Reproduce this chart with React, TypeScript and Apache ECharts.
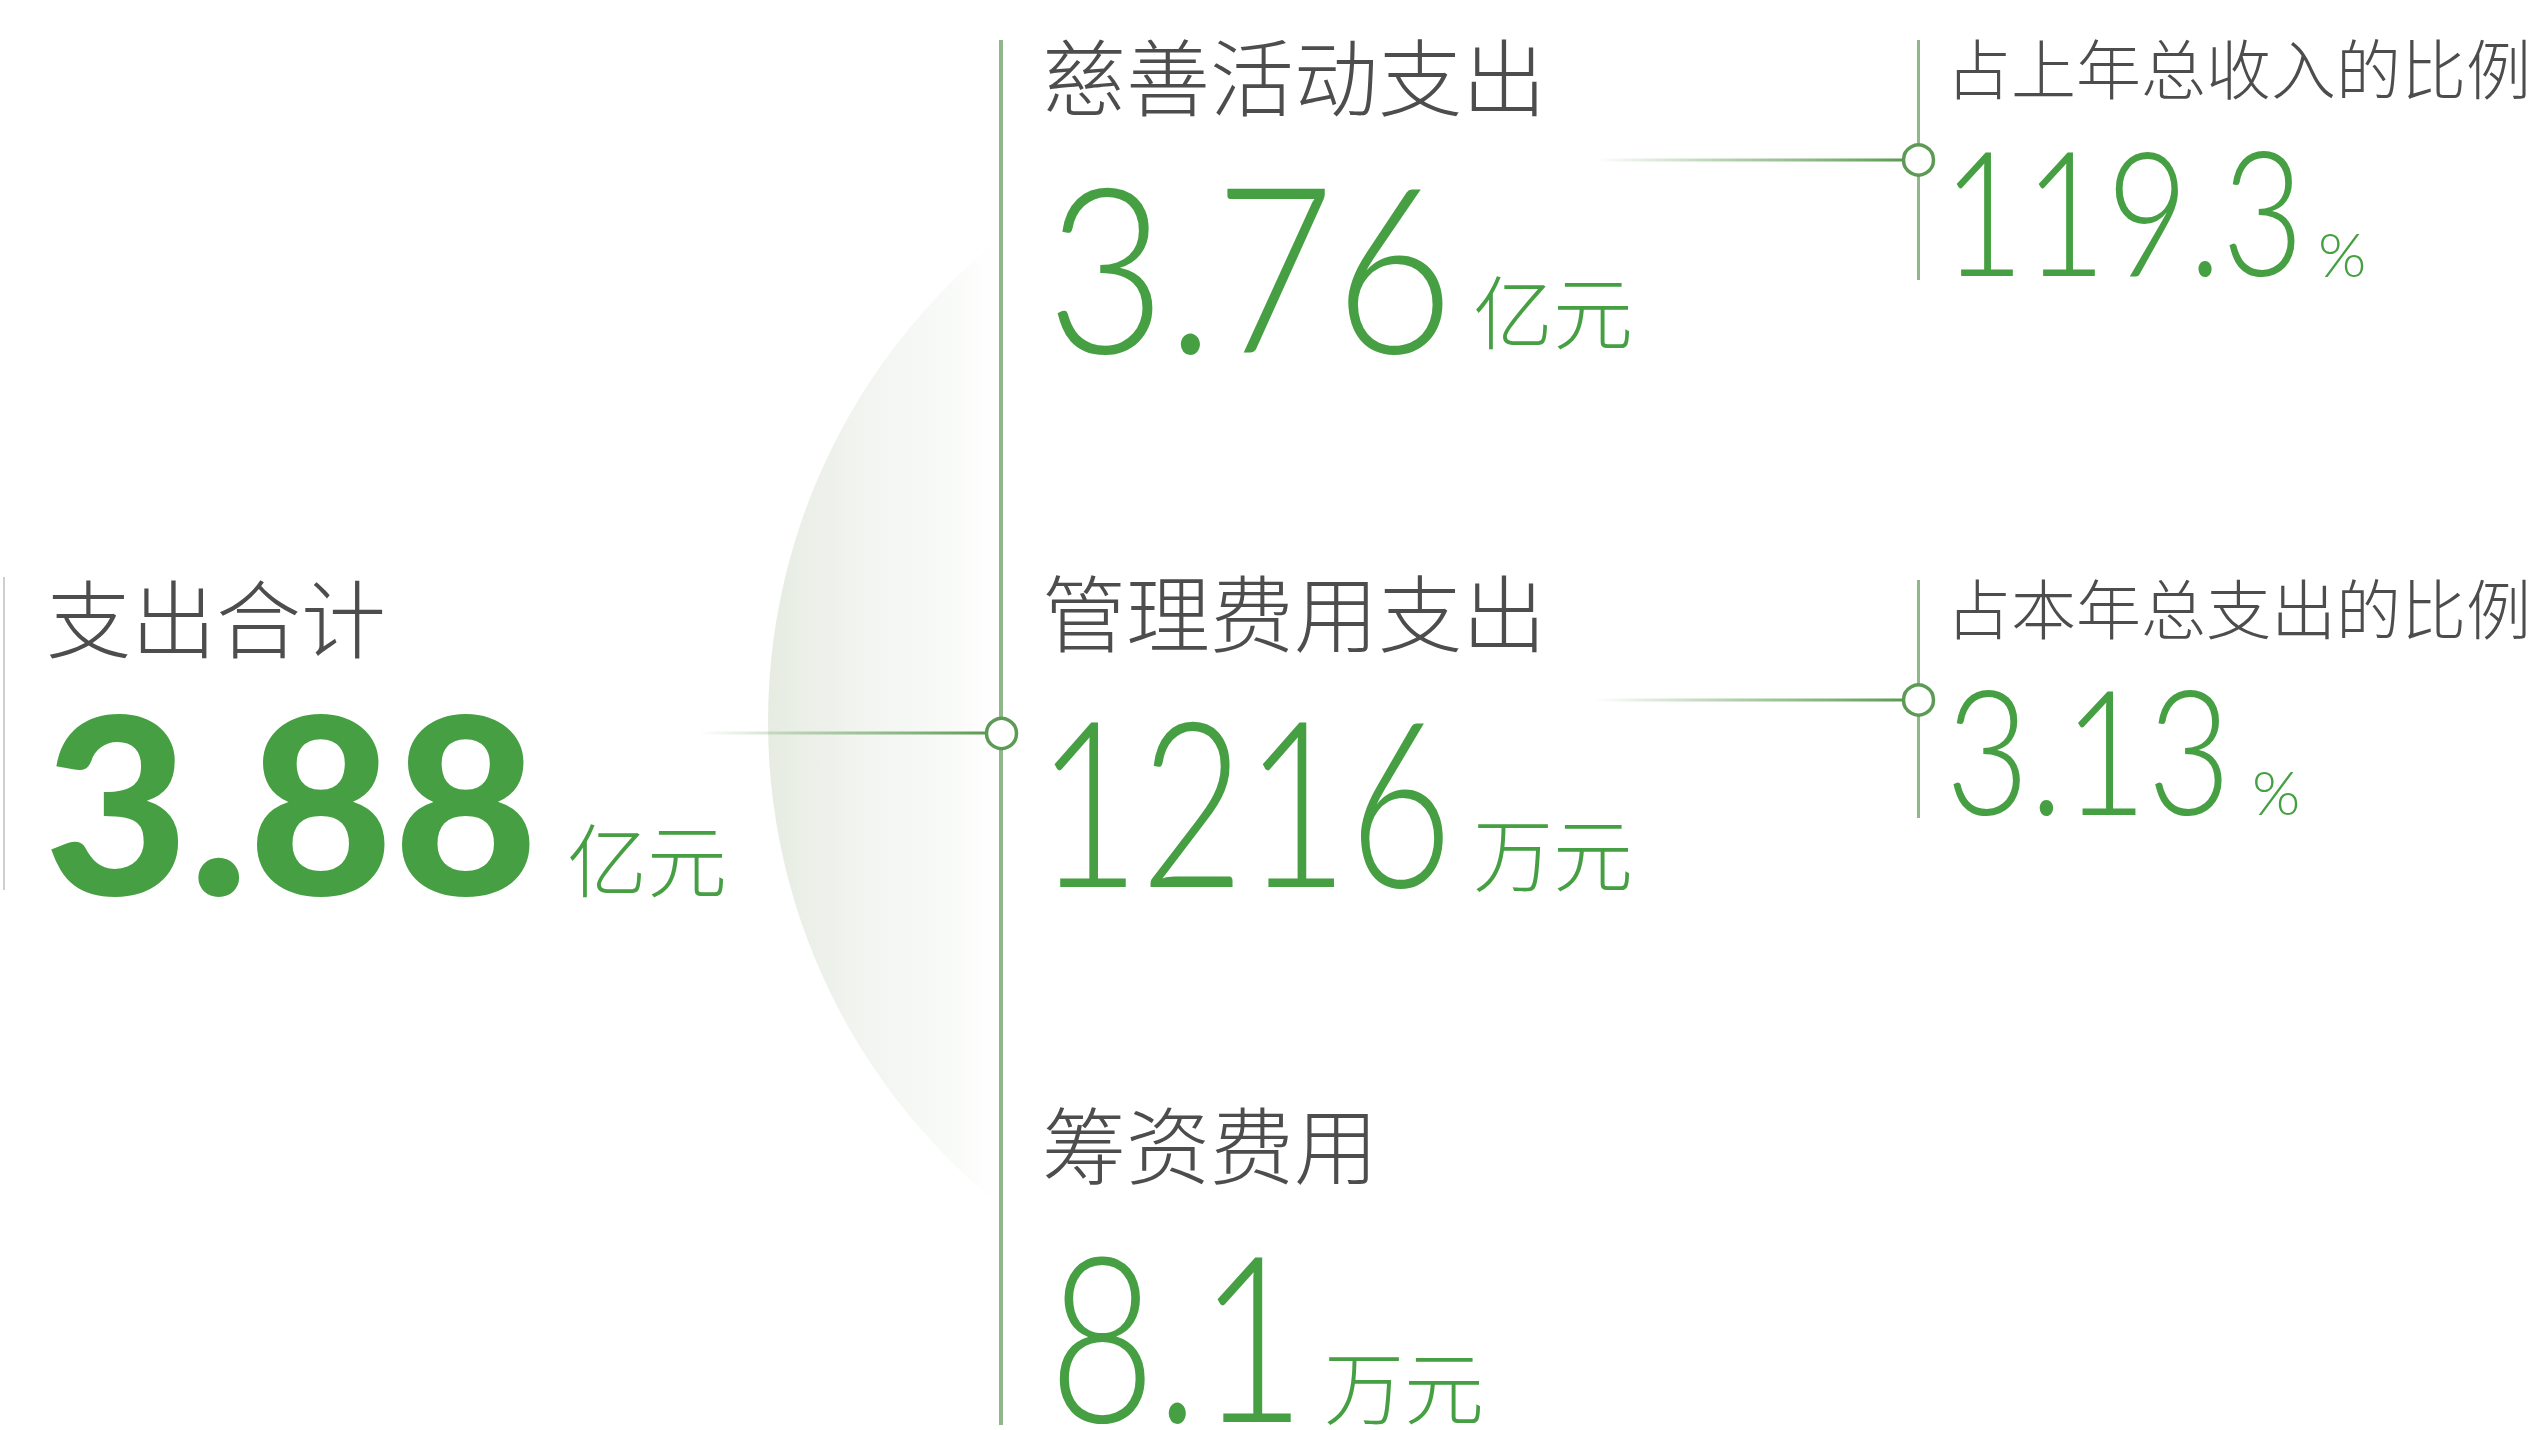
import React, { useEffect, useRef } from "react";
import * as echarts from "echarts";

// ---- data ----
const totalLabel = "支出合计";
const totalValue = "3.88";
const totalUnit = "亿元";

const itemLabels = ["慈善活动支出", "管理费用支出", "筹资费用"];
const itemValues = ["3.76", "1216", "8.1"];
const itemUnits = ["亿元", "万元", "万元"];

const ratioLabels = ["占上年总收入的比例", "占本年总支出的比例"];
const ratioValues = ["119.3", "3.13"];
const ratioUnit = "%";

// ---- layout / style ----
const W = 2544;
const H = 1430;
const CJK = '"Noto Sans CJK SC", "Noto Sans", sans-serif';
const NUM = 'Lato, Roboto, sans-serif';
const GRAY = "#4d4d4d";
const GREEN = "#46a043";
const LINE = "#8fb78a";
const NODE = "#5c9a55";

// item rows (ink boxes measured on the reference)
const itemRows = [
  { labelY: 73, valueL: 1057, valueR: 1443, valueY: 270, unitX: 1473, unitY: 308 },
  { labelY: 609, valueL: 1054, valueR: 1443, valueY: 804, unitX: 1473, unitY: 850 },
  { labelY: 1141, valueL: 1059, valueR: 1291, valueY: 1339, unitX: 1324, unitY: 1383 },
];
const ratioRows = [
  { lineY: 160, vTop: 40, vBot: 280, labelY: 66, valueL: 1956, valueR: 2295, valueY: 215, unitX: 2318, unitY: 253 },
  { lineY: 700, vTop: 580, vBot: 818, labelY: 606, valueL: 1953, valueR: 2222, valueY: 754, unitX: 2252, unitY: 791 },
];

let measureCtx: CanvasRenderingContext2D | null = null;
function inkBox(text: string, font: string) {
  if (!measureCtx) measureCtx = document.createElement("canvas").getContext("2d");
  const ctx = measureCtx as CanvasRenderingContext2D;
  ctx.font = font;
  const m = ctx.measureText(text);
  return { left: m.actualBoundingBoxLeft, right: m.actualBoundingBoxRight };
}

function txt(text: string, x: number, y: number, size: number, color: string, family: string, weight: any, extra: any = {}) {
  return {
    type: "text",
    x,
    y,
    silent: true,
    ...extra,
    style: {
      text,
      fontSize: size,
      fontFamily: family,
      fontWeight: weight,
      fill: color,
      lineHeight: Math.round(size * 0.8),
      textAlign: "left",
      textVerticalAlign: "middle",
    },
  };
}

// number fitted into an ink box [l, r]
function fittedNum(text: string, l: number, r: number, y: number, size: number, weight: any) {
  const b = inkBox(text, `${weight} ${size}px ${NUM}`);
  const ink = b.left + b.right;
  const s = ink > 0 ? (r - l) / ink : 1;
  return txt(text, l + b.left * s, y, size, GREEN, NUM, weight, { scaleX: s, scaleY: 1 });
}

function fadeLine(x1: number, x2: number, y: number, w: number) {
  return {
    type: "line",
    silent: true,
    shape: { x1, y1: y, x2, y2: y },
    style: {
      lineWidth: w,
      stroke: new echarts.graphic.LinearGradient(x1, 0, x2, 0, [
        { offset: 0, color: "rgba(110,165,100,0)" },
        { offset: 0.45, color: "rgba(110,165,100,0.55)" },
        { offset: 1, color: "rgba(80,150,70,1)" },
      ], true),
    },
  };
}

export default function App() {
  const ref = useRef<HTMLDivElement>(null);
  useEffect(() => {
    if (!ref.current) return;
    const chart = echarts.init(ref.current, null, { renderer: "svg" });
    const els: any[] = [];

    // soft sphere shading
    els.push({
      type: "circle",
      silent: true,
      shape: { cx: 1387, cy: 722, r: 619 },
      style: {
        fill: new echarts.graphic.LinearGradient(768, 0, 1000, 0, [
          { offset: 0, color: "#e6ece2" },
          { offset: 0.35, color: "#f0f3ee" },
          { offset: 0.75, color: "#f8faf7" },
          { offset: 1, color: "#ffffff" },
        ], true),
      },
    });
    // white cover right of main line
    els.push({ type: "rect", silent: true, shape: { x: 1003, y: 0, width: 1100, height: H }, style: { fill: "#ffffff" } });

    // left gray bar
    els.push({ type: "line", silent: true, shape: { x1: 4, y1: 577, x2: 4, y2: 890 }, style: { stroke: "#cfcfcf", lineWidth: 2 } });

    // total
    els.push(txt(totalLabel, 46, 614, 85, GRAY, CJK, 300));
    els.push(fittedNum(totalValue, 51, 530, 800, 247, 900));
    els.push(txt(totalUnit, 567, 856, 80, GREEN, CJK, 300));

    // connector total -> main line
    els.push(fadeLine(699, 1001, 733, 3));

    // main vertical line
    els.push({ type: "line", silent: true, shape: { x1: 1001, y1: 40, x2: 1001, y2: 1425 }, style: { stroke: LINE, lineWidth: 4 } });
    els.push({ type: "circle", silent: true, shape: { cx: 1001.5, cy: 733.5, r: 15 }, style: { fill: "#fff", stroke: NODE, lineWidth: 3.5 } });

    // items
    itemLabels.forEach((lab, i) => {
      const r = itemRows[i];
      els.push(txt(lab, 1042, r.labelY, 84, GRAY, CJK, 300));
      els.push(fittedNum(itemValues[i], r.valueL, r.valueR, r.valueY - 7, 232, 300));
      els.push(txt(itemUnits[i], r.unitX, r.unitY, 80, GREEN, CJK, 300));
    });

    // ratios
    ratioLabels.forEach((lab, i) => {
      const r = ratioRows[i];
      els.push(fadeLine(1594, 1918, r.lineY, 3));
      els.push({ type: "line", silent: true, shape: { x1: 1918.5, y1: r.vTop, x2: 1918.5, y2: r.vBot }, style: { stroke: LINE, lineWidth: 3 } });
      els.push({ type: "circle", silent: true, shape: { cx: 1918.5, cy: r.lineY, r: 15 }, style: { fill: "#fff", stroke: NODE, lineWidth: 3.5 } });
      els.push(txt(lab, 1946, r.labelY, 65, GRAY, CJK, 300));
      els.push(fittedNum(ratioValues[i], r.valueL, r.valueR, r.valueY - 6, 174, 300));
      els.push(txt(ratioUnit, r.unitX, r.unitY, 62, GREEN, NUM, 300));
    });

    chart.setOption({ animation: false, backgroundColor: "#ffffff", graphic: { elements: els } });
    return () => chart.dispose();
  }, []);
  return <div ref={ref} style={{ position: "fixed", left: 0, top: 0, width: W, height: H }} />;
}
